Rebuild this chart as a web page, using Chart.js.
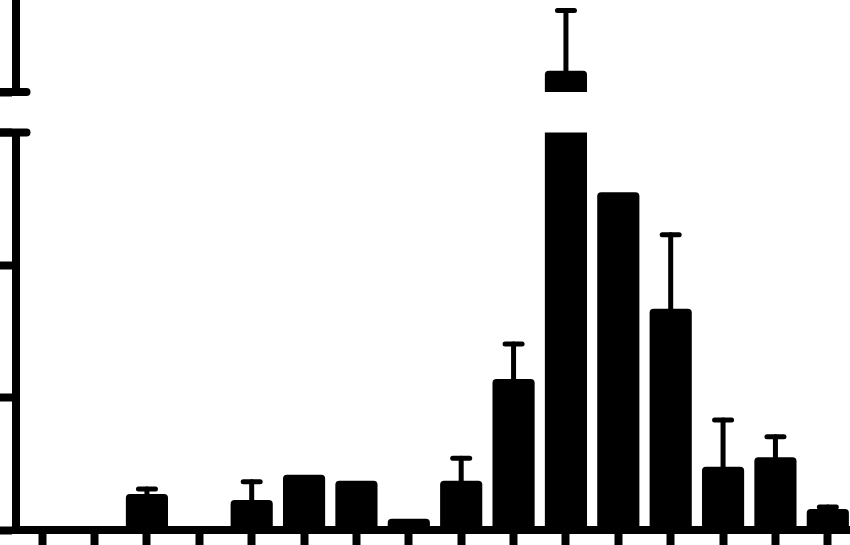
<!DOCTYPE html>
<html><head><meta charset="utf-8">
<script src="https://cdn.jsdelivr.net/npm/chart.js@4"></script>
<style>
html,body{margin:0;padding:0;background:#fff;overflow:hidden;width:850px;height:545px}
#wrap{position:relative;width:850px;height:545px;overflow:hidden;background:#fff}
canvas{position:absolute;left:0;top:0}
</style></head>
<body><div id="wrap"><canvas id="bot" width="870" height="545"></canvas><canvas id="top" width="870" height="100"></canvas></div>
<script>
// ---- data ----
const categories = ['1','2','3','4','5','6','7','8','9','10','11','12','13','14','15','16'];
const values = [0, 0, 2.72, 0, 2.26, 4.17, 3.72, 0.85, 3.72, 11.4, 55.3, 25.5, 16.7, 4.78, 5.49, 1.58];
const errors = [0, 0, 0.37, 0, 1.39, 0, 0, 0, 1.69, 2.64, 15.1, 0, 5.58, 3.52, 1.55, 0.16];
const lowerTicks = [0, 10, 20, 30];
const upperTicks = [50];
const lowerRange = [0, 30];
const upperRange = [50, 73];

const errBars = {
  id: 'errBars',
  afterDatasetsDraw(chart) {
    const ctx = chart.ctx, a = chart.chartArea;
    const meta = chart.getDatasetMeta(0);
    const ys = chart.scales.y;
    const top = Math.max(0, a.top - 10);
    ctx.save();
    ctx.beginPath();
    ctx.rect(0, top, chart.width, a.bottom - top);
    ctx.clip();
    ctx.strokeStyle = '#000';
    ctx.lineWidth = 5;
    ctx.lineCap = 'round';
    errors.forEach((e, i) => {
      if (!e) return;
      const bar = meta.data[i];
      const yb = ys.getPixelForValue(values[i]);
      const yt = ys.getPixelForValue(values[i] + e);
      if (yt < a.top - 5 || yt > a.bottom) return;
      ctx.beginPath();
      ctx.moveTo(bar.x, Math.min(yb, a.bottom));
      ctx.lineTo(bar.x, yt);
      ctx.stroke();
      ctx.beginPath();
      ctx.moveTo(bar.x - 8.5, yt);
      ctx.lineTo(bar.x + 8.5, yt);
      ctx.stroke();
    });
    ctx.restore();
  }
};

const breakMark = {
  id: 'breakMark',
  afterDraw(chart, args, opts) {
    const ys = chart.scales.y;
    const y = ys.getPixelForValue(opts.edge === 'min' ? ys.min : ys.max);
    const ctx = chart.ctx;
    ctx.save();
    ctx.strokeStyle = '#000';
    ctx.lineWidth = 8;
    ctx.lineCap = 'round';
    ctx.beginPath();
    ctx.moveTo(-5, y);
    ctx.lineTo(26.5, y);
    ctx.stroke();
    ctx.restore();
  }
};

function makeChart(id, range, ticks, isTop) {
  return new Chart(document.getElementById(id), {
    type: 'bar',
    data: {
      labels: categories,
      datasets: [{
        data: values,
        backgroundColor: '#000',
        borderWidth: 0,
        borderRadius: 4,
        borderSkipped: 'start',
        barPercentage: 0.805,
        categoryPercentage: 1.0,
        clip: 0
      }]
    },
    plugins: [errBars, breakMark],
    options: {
      responsive: false,
      animation: false,
      events: [],
      devicePixelRatio: 1,
      layout: { padding: isTop ? { top: 0, right: 16, bottom: 8, left: 0 } : { top: 132.5, right: 16, bottom: 0, left: 0 } },
      plugins: {
        legend: { display: false },
        tooltip: { enabled: false },
        breakMark: { edge: isTop ? 'min' : 'max' }
      },
      scales: {
        x: {
          display: !isTop,
          offset: true,
          grid: { display: true, drawOnChartArea: false, drawTicks: true, offset: false, tickLength: 15, tickWidth: 8, tickColor: '#000' },
          border: { display: true, width: 8, color: '#000' },
          ticks: { display: false }
        },
        y: {
          min: range[0], max: range[1],
          afterBuildTicks(s) { s.ticks = ticks.map(v => ({ value: v })); },
          grid: { display: true, drawOnChartArea: false, drawTicks: true, tickLength: 16, tickWidth: 8, tickColor: '#000' },
          border: { display: true, width: 8, color: '#000' },
          ticks: { display: false }
        }
      }
    }
  });
}

makeChart('bot', lowerRange, lowerTicks, false);
makeChart('top', upperRange, upperTicks, true);
</script>
</body></html>
